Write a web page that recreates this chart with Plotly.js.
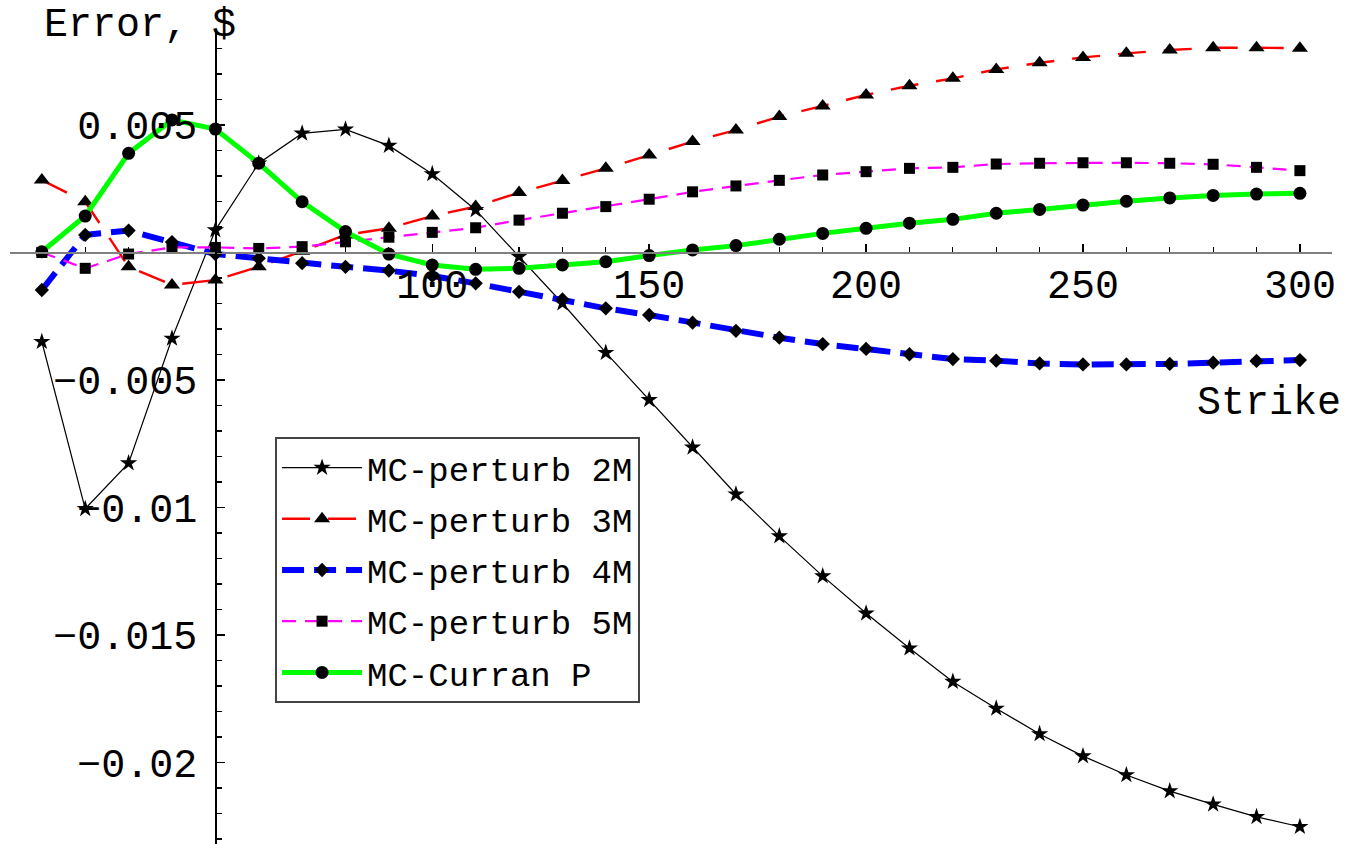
<!DOCTYPE html>
<html>
<head>
<meta charset="utf-8">
<script src="https://cdn.plot.ly/plotly-3.0.1.min.js"></script>
<style>html,body{margin:0;padding:0;background:#fff;}#chart{width:1350px;height:844px;}</style>
</head>
<body>
<div id="chart"></div>
<script>
const strikes = [10,20,30,40,50,60,70,80,90,100,110,120,130,140,150,160,170,180,190,200,210,220,230,240,250,260,270,280,290,300];

const mcPerturb2M = [-0.00350,-0.01005,-0.00826,-0.00337,0.00088,0.00350,0.00467,0.00483,0.00419,0.00308,0.00167,-0.00016,-0.00199,-0.00393,-0.00578,-0.00764,-0.00948,-0.01112,-0.01269,-0.01415,-0.01552,-0.01683,-0.01788,-0.01888,-0.01975,-0.02049,-0.02112,-0.02164,-0.02213,-0.02252];
const mcPerturb3M = [0.00284,0.00199,-0.00056,-0.00127,-0.00108,-0.00056,0.00005,0.00069,0.00095,0.00143,0.00180,0.00235,0.00282,0.00330,0.00382,0.00435,0.00480,0.00533,0.00575,0.00618,0.00654,0.00683,0.00718,0.00744,0.00765,0.00781,0.00794,0.00803,0.00803,0.00801];
const mcPerturb4M = [-0.00147,0.00069,0.00086,0.00041,-0.00006,-0.00023,-0.00042,-0.00056,-0.00071,-0.00092,-0.00121,-0.00154,-0.00184,-0.00219,-0.00245,-0.00275,-0.00307,-0.00334,-0.00359,-0.00378,-0.00399,-0.00418,-0.00424,-0.00435,-0.00439,-0.00439,-0.00437,-0.00432,-0.00425,-0.00422];
const mcPerturb5M = [0.00000,-0.00062,-0.00006,0.00020,0.00020,0.00016,0.00023,0.00042,0.00060,0.00079,0.00097,0.00127,0.00154,0.00180,0.00209,0.00238,0.00261,0.00283,0.00304,0.00317,0.00330,0.00334,0.00347,0.00350,0.00352,0.00352,0.00350,0.00346,0.00334,0.00321];
const mcCurranP = [0.00003,0.00143,0.00389,0.00520,0.00484,0.00350,0.00199,0.00082,-0.00006,-0.00049,-0.00066,-0.00062,-0.00049,-0.00036,-0.00012,0.00010,0.00027,0.00052,0.00075,0.00095,0.00115,0.00130,0.00154,0.00169,0.00186,0.00201,0.00214,0.00224,0.00229,0.00232];

const seriesNames = ["MC-perturb 2M","MC-perturb 3M","MC-perturb 4M","MC-perturb 5M","MC-Curran P"];

const xTickVals = [100,150,200,250,300];
const xTickText = ["100","150","200","250","300"];
const yTickVals = [0.005,-0.005,-0.01,-0.015,-0.02];
const yTickText = ["0.005","\u22120.005","\u22120.01","\u22120.015","\u22120.02"];

const FONT = "'Liberation Mono', 'Courier New', monospace";
const xRange = [2.66, 307.4];
const yRange = [-0.023196, 0.008765];

const traces = [
  {x: strikes, y: mcPerturb2M, name: seriesNames[0], legendgroup: 'g1', mode: 'lines+markers',
   line: {color: '#000000', width: 1.2},
   marker: {symbol: 'star', size: 13, color: '#000000'}},
  {x: strikes, y: mcPerturb3M, name: seriesNames[1], legendgroup: 'g2', mode: 'lines+markers',
   line: {color: '#ff0000', width: 2.4, dash: '28px,18px'},
   marker: {symbol: 'triangle-up', size: 14, color: '#000000'}},
  {x: strikes, y: mcPerturb4M, name: seriesNames[2], legendgroup: 'g3', mode: 'lines+markers',
   line: {color: '#0000ff', width: 6, dash: '22px,10px'},
   marker: {symbol: 'diamond', size: 11, color: '#000000'}},
  {x: strikes, y: mcPerturb5M, name: seriesNames[3], legendgroup: 'g4', mode: 'lines+markers',
   line: {color: '#ff00ff', width: 2.2, dash: '14px,9px'},
   marker: {symbol: 'square', size: 11, color: '#000000'}},
  {x: strikes, y: mcCurranP, name: seriesNames[4], legendgroup: 'g5', mode: 'lines+markers',
   line: {color: '#00ff00', width: 5},
   marker: {symbol: 'circle', size: 13, color: '#000000'}}
];

const layout = {
  width: 1350, height: 844,
  margin: {l: 10, r: 18, t: 29, b: 0, pad: 0},
  paper_bgcolor: '#ffffff', plot_bgcolor: '#ffffff',
  font: {family: FONT, color: '#000000'},
  showlegend: true,
  xaxis: {
    range: xRange, anchor: 'free',
    position: (0 - yRange[0]) / (yRange[1] - yRange[0]),
    showline: true, linecolor: '#808080', linewidth: 2,
    showgrid: false, zeroline: false,
    tickmode: 'array', tickvals: xTickVals, ticktext: xTickText,
    ticks: 'inside', ticklen: 8, tickwidth: 1.5, tickcolor: '#000000',
    ticklabelstandoff: -4,
    tickfont: {family: FONT, size: 40, color: '#000000'},
    minor: {tickmode: 'linear', tick0: 0, dtick: 10, ticks: 'inside', ticklen: 5, tickwidth: 1.2, tickcolor: '#000000', showgrid: false}
  },
  yaxis: {
    range: yRange, anchor: 'free',
    position: (50 - xRange[0]) / (xRange[1] - xRange[0]),
    showline: true, linecolor: '#000000', linewidth: 1.5,
    showgrid: false, zeroline: false,
    tickmode: 'array', tickvals: yTickVals, ticktext: yTickText,
    ticks: 'inside', ticklen: 8, tickwidth: 1.5, tickcolor: '#000000',
    ticklabelstandoff: 10,
    tickfont: {family: FONT, size: 40, color: '#000000'},
    minor: {tickmode: 'linear', tick0: 0, dtick: 0.001, ticks: 'inside', ticklen: 5, tickwidth: 1.2, tickcolor: '#000000', showgrid: false}
  },
  legend: {
    x: 0.2005, y: 0.4994, xanchor: 'left', yanchor: 'top',
    bgcolor: '#ffffff', bordercolor: '#444444', borderwidth: 2,
    font: {family: FONT, size: 34, color: '#000000'},
    itemwidth: 80, tracegroupgap: 4, entrywidth: 300
  },
  annotations: [
    {text: 'Error, $', xref: 'paper', yref: 'paper', x: 0.1725, y: 1.0049, xanchor: 'right', yanchor: 'middle', showarrow: false, font: {family: FONT, size: 40, color: '#000000'}},
    {text: 'Strike', xref: 'paper', yref: 'paper', x: 1.0083, y: 0.5411, xanchor: 'right', yanchor: 'middle', showarrow: false, font: {family: FONT, size: 40, color: '#000000'}}
  ]
};

Plotly.newPlot('chart', traces, layout, {staticPlot: true, displayModeBar: false});
</script>
</body>
</html>
